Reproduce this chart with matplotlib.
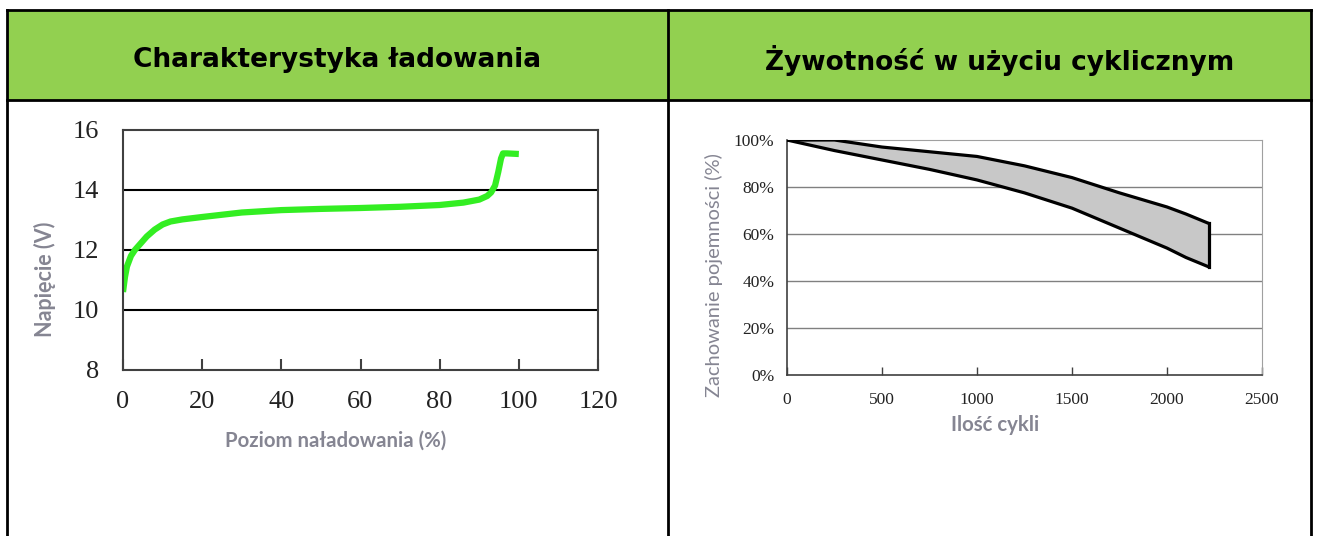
import matplotlib.pyplot as plt
from matplotlib.patches import Rectangle
from matplotlib.lines import Line2D

# charge characteristic (left)
charge_level = [0, 0.5, 1, 2, 3, 4, 6, 8, 10, 12, 15, 20, 30, 40, 50, 60, 70, 80, 86, 90, 92, 93, 94, 94.8, 95.5, 96, 97, 100]
voltage = [10.6, 11.1, 11.45, 11.8, 12.0, 12.15, 12.45, 12.68, 12.85, 12.95, 13.02, 13.1, 13.25, 13.33, 13.37, 13.4, 13.44, 13.5, 13.58, 13.68, 13.8, 13.92, 14.15, 14.6, 15.05, 15.22, 15.22, 15.2]

# cycle life (right)
cycles = [0, 250, 500, 750, 1000, 1250, 1500, 1750, 2000, 2100, 2220]
capacity_upper = [100, 100, 97, 95, 93, 89, 84, 77.5, 71.5, 68.5, 64.5]
capacity_lower = [100, 95.5, 91.5, 87.5, 83, 77.5, 71, 62.5, 54, 50, 46]

titles = ['Charakterystyka ładowania', 'Żywotność w użyciu cyklicznym']

W, H = 1319, 536
fig = plt.figure(figsize=(W / 100, H / 100), dpi=100)


def fx(px):
    return px / W


def fy(py):
    return 1 - py / H


# table header and borders
fig.add_artist(Rectangle((fx(7), fy(100)), fx(1311) - fx(7), fy(10) - fy(100),
                         transform=fig.transFigure, facecolor='#92d050', edgecolor='none'))
border = dict(transform=fig.transFigure, color='black', lw=2)
fig.add_artist(Line2D([fx(7), fx(1311)], [fy(10), fy(10)], **border))
fig.add_artist(Line2D([fx(7), fx(1311)], [fy(100), fy(100)], **border))
fig.add_artist(Line2D([fx(7), fx(7)], [fy(10), 0], **border))
fig.add_artist(Line2D([fx(1311), fx(1311)], [fy(10), 0], **border))
fig.add_artist(Line2D([fx(668), fx(668)], [fy(10), 0], **border))
fig.text(fx(337), fy(60), titles[0], ha='center', va='center', fontsize=19, fontweight='bold', family='DejaVu Sans')
fig.text(fx(1000), fy(60), titles[1], ha='center', va='center', fontsize=19, fontweight='bold', family='DejaVu Sans')

label_color = '#858592'

# left chart
ax1 = fig.add_axes([fx(123), fy(370), fx(598) - fx(123), fy(130) - fy(370)])
ax1.plot(charge_level, voltage, color='#33ee22', lw=4.5, solid_capstyle='butt')
ax1.set_xlim(0, 120)
ax1.set_ylim(8, 16)
ax1.set_xticks([0, 20, 40, 60, 80, 100, 120])
ax1.set_yticks([8, 10, 12, 14, 16])
for v in [10, 12, 14]:
    ax1.axhline(v, color='black', lw=1.5, zorder=0)
for s in ax1.spines.values():
    s.set_color('#404040')
    s.set_linewidth(1.5)
ax1.tick_params(axis='x', direction='in', length=8, width=1.5, color='#404040', pad=15)
ax1.tick_params(axis='y', length=0, pad=17)
for lab in ax1.get_xticklabels() + ax1.get_yticklabels():
    lab.set_family('Liberation Serif')
    lab.set_fontsize(19)
    lab.set_color('#222222')
ax1.set_xlabel('Poziom naładowania (%)', fontsize=14.7, fontweight='bold', color=label_color,
               family='Lato', va='center')
ax1.xaxis.set_label_coords((336 - 123) / 475, (370 - 441) / 240)
ax1.set_ylabel('Napięcie (V)', fontsize=15.5, fontweight='bold', color=label_color,
               family='Lato', va='center')
ax1.yaxis.set_label_coords((45 - 123) / 475, (370 - 279) / 240)

# right chart
ax2 = fig.add_axes([fx(787), fy(375), fx(1262) - fx(787), fy(140) - fy(375)])
ax2.fill_between(cycles, capacity_lower, capacity_upper, facecolor='#c8c8c8', edgecolor='none', zorder=2)
ax2.plot(cycles, capacity_upper, color='black', lw=2.3, zorder=3)
ax2.plot(cycles, capacity_lower, color='black', lw=2.3, zorder=3)
ax2.plot([cycles[-1], cycles[-1]], [capacity_lower[-1], capacity_upper[-1]], color='black', lw=2.3, zorder=3)
ax2.set_xlim(0, 2500)
ax2.set_ylim(0, 100)
ax2.set_xticks([0, 500, 1000, 1500, 2000, 2500])
ax2.set_yticks([0, 20, 40, 60, 80, 100])
ax2.set_yticklabels([f'{v}%' for v in [0, 20, 40, 60, 80, 100]])
for v in [20, 40, 60, 80]:
    ax2.axhline(v, color='#808080', lw=1, zorder=1)
ax2.spines['top'].set_color('#a0a0a0')
ax2.spines['right'].set_color('#a0a0a0')
ax2.spines['left'].set_color('#404040')
ax2.spines['bottom'].set_color('#404040')
ax2.spines['left'].set_linewidth(1.2)
ax2.spines['bottom'].set_linewidth(1.2)
ax2.tick_params(axis='x', direction='in', length=6, width=1, color='#404040', pad=12)
ax2.tick_params(axis='y', length=0, pad=9)
for lab in ax2.get_xticklabels() + ax2.get_yticklabels():
    lab.set_family('Liberation Serif')
    lab.set_fontsize(12.5)
    lab.set_color('#222222')
ax2.set_xlabel('Ilość cykli', fontsize=14.7, fontweight='bold', color=label_color,
               family='Lato', va='center')
ax2.xaxis.set_label_coords((995 - 787) / 475, (375 - 425) / 235)
ax2.set_ylabel('Zachowanie pojemności (%)', fontsize=14.5, color=label_color,
               family='Lato', va='center')
ax2.yaxis.set_label_coords((714 - 787) / 475, (375 - 275) / 235)

fig.savefig('out.png', dpi=100)
